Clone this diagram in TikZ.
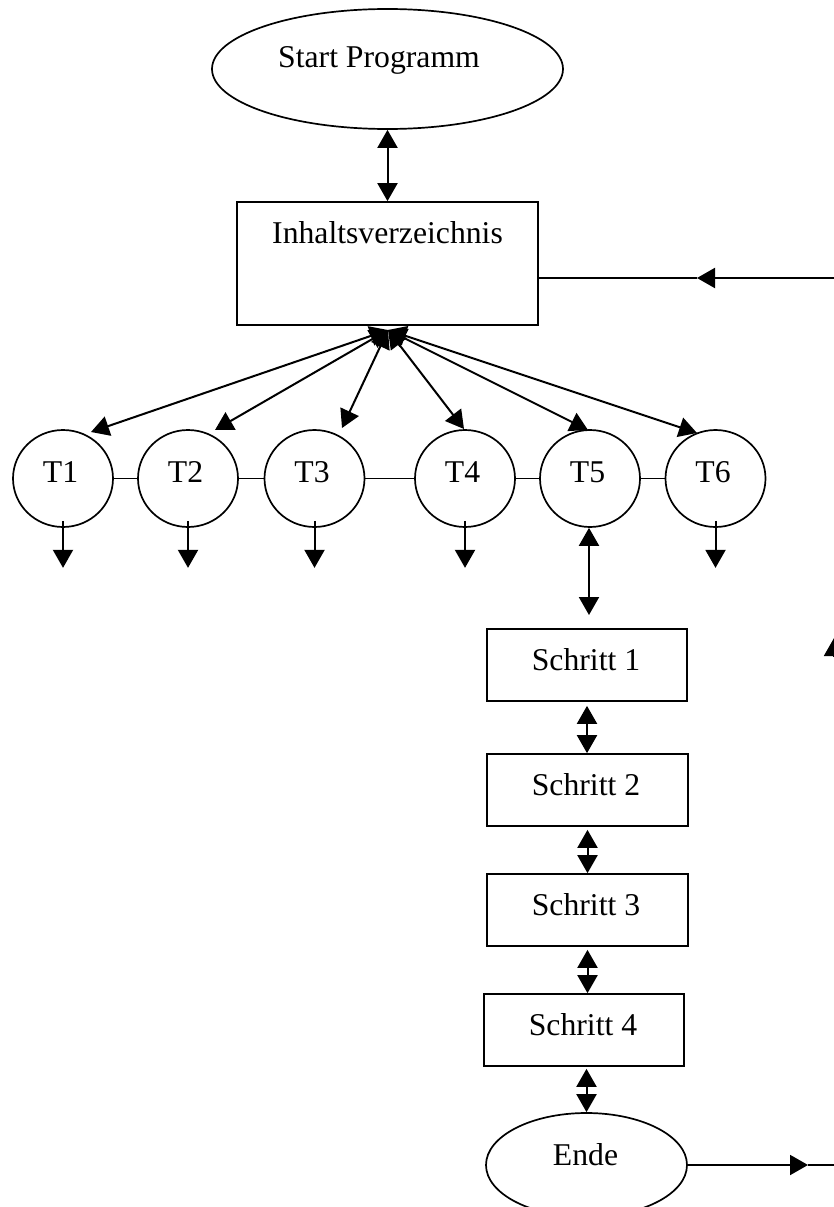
\documentclass[tikz,border=0pt]{standalone}
\usepackage{fontspec}
\setmainfont{Liberation Serif}
\usetikzlibrary{arrows.meta,shapes.geometric}
\newcommand\fsz{\fontsize{31.7pt}{36pt}\selectfont}
\begin{document}
\begin{tikzpicture}[x=1pt,y=-1pt,
  >={Triangle[length=18pt,width=20pt]},
  shp/.style={draw, line width=1.7pt, inner sep=0pt},
  lbl/.style={font=\fsz, anchor=base, inner sep=0pt},
  con/.style={line width=2pt},
  dbl/.style={con, <->},
  sgl/.style={con, ->},
  link/.style={line width=1.4pt}]
\useasboundingbox (0,0) rectangle (834,1207);
\fill[white] (0,0) rectangle (834,1207);

% top
\node[shp, ellipse, minimum width=351pt, minimum height=120pt] (start) at (387.5,69) {};
\node[lbl] (starttxt) at (379,67) {Start Programm};
\node[shp, rectangle, minimum width=301pt, minimum height=123pt] (inh) at (387.5,263.5) {};
\node[lbl] (inhtxt) at (387.5,243) {Inhaltsverzeichnis};
\draw[dbl] (start.south) -- (inh.north);

% circles
\foreach \n/\x in {1/63,2/188,3/314.5,4/465,5/590,6/715.5}{
  \node[shp, ellipse, minimum width=100pt, minimum height=97pt] (T\n) at (\x,478.5) {};
  \node[lbl] (T\n txt) at (\x-2.5,482) {T\n};
}
\draw[link] (T1.east) -- (T2.west);
\draw[link] (T2.east) -- (T3.west);
\draw[link] (T3.east) -- (T4.west);
\draw[link] (T4.east) -- (T5.west);
\draw[link] (T5.east) -- (T6.west);
\foreach \n in {1,2,3,4,6}{
  \draw[sgl] ([yshift=7pt]T\n.south) -- ++(0,47);
}

% fan
\coordinate (hub) at (388,330);
\coordinate (a1) at (91,432);
\coordinate (a2) at (215,430);
\coordinate (a3) at (342,428);
\coordinate (a4) at (464,429);
\coordinate (a5) at (588,430);
\coordinate (a6) at (697,433);
\foreach \i in {1,...,6}{
  \draw[dbl] (hub) -- (a\i);
}

% steps
\node[shp, rectangle, minimum width=200pt, minimum height=72pt] (S1) at (587,665) {};
\node[lbl] (S1txt) at (586,670) {Schritt 1};
\node[shp, rectangle, minimum width=201pt, minimum height=72pt] (S2) at (587.5,790) {};
\node[lbl] (S2txt) at (586,795) {Schritt 2};
\node[shp, rectangle, minimum width=201pt, minimum height=72pt] (S3) at (587.5,910) {};
\node[lbl] (S3txt) at (586,915) {Schritt 3};
\node[shp, rectangle, minimum width=200pt, minimum height=72pt] (S4) at (584,1030) {};
\node[lbl] (S4txt) at (583,1035) {Schritt 4};
\node[shp, ellipse, minimum width=201pt, minimum height=104pt] (ende) at (586.5,1165) {};
\node[lbl] (endetxt) at (585.5,1165) {Ende};

\coordinate (s1in) at (589,615);
\draw[dbl] (T5.south -| s1in) -- (s1in);
\draw[dbl] ([yshift=-4pt]S1.south) -- (S2.north -| S1.south);
\draw[dbl] ([yshift=-3pt]S2.south) -- (S3.north);
\draw[dbl] ([yshift=-3pt]S3.south) -- (S4.north -| S3.south);
\draw[dbl] ([yshift=-2pt]S4.south -| ende.north) -- (ende.north);

% right side
\coordinate (rt) at (834,278);
\coordinate (rtm) at (697,278);
\draw[sgl] (rt) -- (rtm);
\draw[con] (rtm) -- (rt -| inh.east);

\coordinate (rb) at (834,1165);
\coordinate (rbm) at (808,1165);
\draw[sgl] (ende.east) -- (rbm);
\draw[con] (rbm) -- (rb);

\coordinate (ru) at (834,638);
\coordinate (rul) at (834,657);
\draw[sgl] (rul) -- (ru);
\end{tikzpicture}
\end{document}
